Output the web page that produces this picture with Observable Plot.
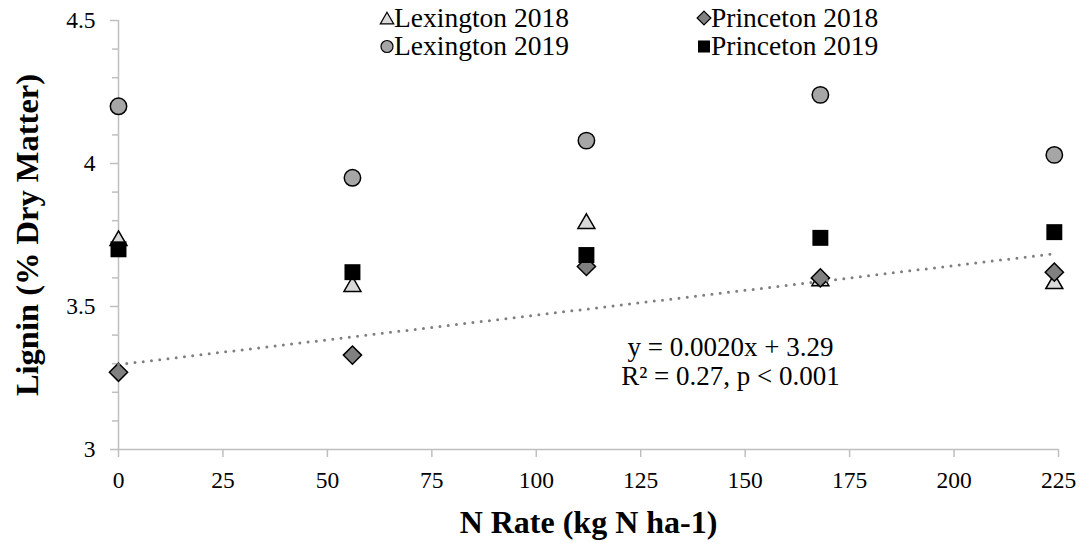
<!DOCTYPE html>
<html>
<head>
<meta charset="utf-8">
<script src="https://cdn.jsdelivr.net/npm/d3@7"></script>
<script src="https://cdn.jsdelivr.net/npm/@observablehq/plot@0.6"></script>
<style>
  html, body { margin: 0; padding: 0; background: #fff; }
  #chart { width: 1088px; height: 543px; }
  #chart svg, #chart svg text, #chart svg g { font-family: "Liberation Serif", "Times New Roman", serif !important; }
</style>
</head>
<body>
<div id="chart"></div>
<script>
// ---- data ----
const nRate = [0, 56, 112, 168, 224];
const lexington2018 = [3.73, 3.57, 3.79, 3.59, 3.58];
const princeton2018 = [3.27, 3.33, 3.64, 3.60, 3.62];
const lexington2019 = [4.20, 3.95, 4.08, 4.24, 4.03];
const princeton2019 = [3.70, 3.62, 3.68, 3.74, 3.76];
const trendIntercept = 3.297;
const trendSlope = 0.00173;
const trendRange = [0, 224];
const xTicks = [0, 25, 50, 75, 100, 125, 150, 175, 200, 225];
const yTicks = [3, 3.5, 4, 4.5];
const yMinorTicks = [3.1, 3.2, 3.3, 3.4, 3.6, 3.7, 3.8, 3.9, 4.1, 4.2, 4.3, 4.4];
const xTitle = "N Rate (kg N ha-1)";
const yTitle = "Lignin (% Dry Matter)";
const equationText = "y = 0.0020x + 3.29\nR² = 0.27, p < 0.001";
const seriesNames = ["Lexington 2018", "Princeton 2018", "Lexington 2019", "Princeton 2019"];

const toPoints = (ys) => nRate.map((x, i) => ({x, y: ys[i]}));
const trend = trendRange.map(x => ({x, y: trendIntercept + trendSlope * x}));

const axisGray = "#bfbfbf";
const font = "Liberation Serif";

const styles = {
  "Lexington 2018": {symbol: "triangle", r: 6.3, fill: "#d9d9d9", stroke: "black", strokeWidth: 1.5},
  "Princeton 2018": {symbol: "diamond2", r: 8.2, fill: "#808080", stroke: "black", strokeWidth: 1.5},
  "Lexington 2019": {symbol: "circle", r: 8.2, fill: "#a6a6a6", stroke: "black", strokeWidth: 1.5},
  "Princeton 2019": {symbol: "square", r: 9, fill: "black", stroke: "none", strokeWidth: 0}
};
const seriesValues = [lexington2018, princeton2018, lexington2019, princeton2019];

const chart = Plot.plot({
  width: 1088,
  height: 543,
  marginLeft: 118,
  marginRight: 30,
  marginTop: 20,
  marginBottom: 94,
  style: {fontFamily: font, fontSize: "24px", color: "black", background: "white"},
  x: {domain: [0, 225]},
  y: {domain: [3, 4.5]},
  marks: [
    Plot.ruleX([0], {stroke: axisGray, strokeWidth: 1.5}),
    Plot.ruleY([3], {stroke: axisGray, strokeWidth: 1.5}),
    // tick marks only
    Plot.axisY(yMinorTicks, {tickSize: 6, tickFormat: () => "", stroke: axisGray, strokeWidth: 1.5, label: null}),
    Plot.axisY(yTicks, {tickSize: 8, tickFormat: () => "", stroke: axisGray, strokeWidth: 1.5, label: null}),
    Plot.axisX(xTicks, {tickSize: 8, tickFormat: () => "", stroke: axisGray, strokeWidth: 1.5, label: null}),
    // tick labels
    Plot.text(yTicks, {y: d => d, frameAnchor: "left", dx: -23, textAnchor: "end", lineAnchor: "middle", text: d => String(d), fontSize: 23.5, fill: "black", fontFamily: font}),
    Plot.text(xTicks, {x: d => d, frameAnchor: "bottom", dy: 30.5, textAnchor: "middle", lineAnchor: "middle", text: d => String(d), fontSize: 23.5, fill: "black", fontFamily: font}),
    // series
    ...seriesNames.map((name, k) => Plot.dot(toPoints(seriesValues[k]), {x: "x", y: "y", ...styles[name]})),
    // trendline
    Plot.line(trend, {x: "x", y: "y", stroke: "#7f7f7f", strokeWidth: 3, strokeDasharray: "0 8.3", strokeLinecap: "round"}),
    // equation and titles
    Plot.text([equationText], {frameAnchor: "top-left", dx: 612, dy: 341, lineAnchor: "middle", fontSize: 27, lineHeight: 1.05, textAnchor: "middle", fill: "black", fontFamily: font}),
    Plot.text([xTitle], {frameAnchor: "bottom", dy: 73, lineAnchor: "middle", textAnchor: "middle", fontSize: 32, fontWeight: "bold", fill: "black", fontFamily: font}),
    Plot.text([yTitle], {frameAnchor: "left", dx: -91, lineAnchor: "middle", textAnchor: "middle", rotate: -90, fontSize: 32.5, fontWeight: "bold", fill: "black", fontFamily: font})
  ]
});
document.getElementById("chart").appendChild(chart);

// legend (two columns, row-major like the original)
const svg = d3.select(chart);
const legendCols = [387, 704];
const legendRows = [18, 46.5];
const legendSymbolSize = {"Lexington 2018": 5, "Princeton 2018": 6.2, "Lexington 2019": 6, "Princeton 2019": 6.8};
const symbolTypes = {triangle: d3.symbolTriangle, diamond2: d3.symbolDiamond2, circle: d3.symbolCircle, square: d3.symbolSquare};
const lg = svg.append("g").attr("class", "legend");
seriesNames.forEach((name, k) => {
  const cx = legendCols[k % 2], cy = legendRows[Math.floor(k / 2)];
  const st = styles[name];
  const r = legendSymbolSize[name];
  const ty = st.symbol === "triangle" ? cy + r * 0.4 : cy;
  lg.append("path")
    .attr("d", d3.symbol(symbolTypes[st.symbol], r * r * Math.PI)())
    .attr("transform", `translate(${cx},${ty})`)
    .attr("fill", st.fill)
    .attr("stroke", st.stroke)
    .attr("stroke-width", st.strokeWidth ? 1.2 : 0);
  lg.append("text")
    .attr("x", cx + 7)
    .attr("y", cy)
    .attr("dy", "0.32em")
    .attr("text-anchor", "start")
    .attr("font-size", 27.5)
    .attr("fill", "black")
    .text(name);
});
</script>
</body>
</html>
